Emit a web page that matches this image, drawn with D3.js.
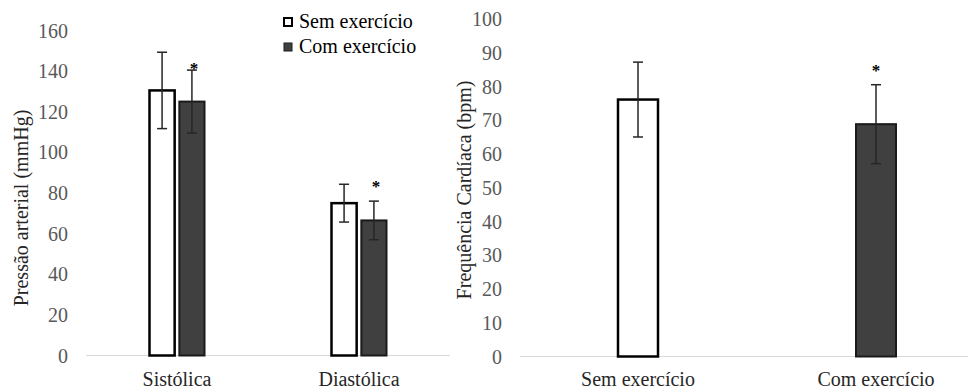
<!DOCTYPE html>
<html lang="pt">
<head>
    <meta charset="UTF-8">
    <script src="https://d3js.org/d3.v7.min.js"></script>
    <style>
        body { margin: 0; background: #fff; }
        svg text { font-family: "Liberation Serif", "Times New Roman", serif; }
    </style>
</head>
<body>
    <svg id="chart" width="968" height="392"></svg>

    <script>
        // left panel: blood pressure
        const bpCategories = ["Sistólica", "Diastólica"];
        const seriesNames = ["Sem exercício", "Com exercício"];
        const bpMeans = [[130.5, 125], [75, 66.5]];
        const bpErrors = [[18.8, 15.5], [9.3, 9.5]];
        const bpStarAt = [143, 85];   // value where the * sits
        const bpTicks = [0, 20, 40, 60, 80, 100, 120, 140, 160];

        // right panel: heart rate
        const hrCategories = ["Sem exercício", "Com exercício"];
        const hrMeans = [76.2, 68.9];
        const hrErrors = [11.1, 11.7];
        const hrStar = [false, true];
        const hrStarAt = 86;
        const hrTicks = [0, 10, 20, 30, 40, 50, 60, 70, 80, 90, 100];

        const fills = ["#ffffff", "#404040"];
        const strokes = ["#000000", "#1a1a1a"];

        const svg = d3.select("#chart");

        // draws a vertical error bar with caps
        function errorBar(cx, yTop, yBottom) {
            svg.append("line")
                .attr("x1", cx).attr("x2", cx)
                .attr("y1", yTop).attr("y2", yBottom)
                .attr("stroke", "#262626").attr("stroke-width", 1.5);
            [yTop, yBottom].forEach(y => {
                svg.append("line")
                    .attr("x1", cx - 5).attr("x2", cx + 5)
                    .attr("y1", y).attr("y2", y)
                    .attr("stroke", "#262626").attr("stroke-width", 1.5);
            });
        }

        function star(x, y) {
            svg.append("text")
                .attr("x", x).attr("y", y + 9)
                .attr("text-anchor", "middle")
                .attr("font-size", 17).attr("font-weight", "bold")
                .attr("fill", "#000").text("*");
        }

        // ---------- left ----------
        const yL = d3.scaleLinear().domain([0, 160]).range([355.5, 30.5]);
        const xL = d3.scaleBand().domain(bpCategories).range([86, 450]);
        const xInner = d3.scaleBand().domain(seriesNames).range([0, 57]).paddingInner(0.09);

        svg.append("line")
            .attr("x1", 86).attr("x2", 450)
            .attr("y1", yL(0)).attr("y2", yL(0))
            .attr("stroke", "#d9d9d9").attr("stroke-width", 1);

        svg.selectAll(".tickL")
            .data(bpTicks).enter().append("text")
            .attr("class", "tickL")
            .attr("x", 68).attr("y", d => yL(d) + 7)
            .attr("text-anchor", "end")
            .attr("font-size", 20).attr("fill", "#595959")
            .text(d => d);

        bpCategories.forEach((cat, ci) => {
            const left = xL(cat) + xL.bandwidth() / 2 - 28.5;
            seriesNames.forEach((s, si) => {
                const m = bpMeans[ci][si], e = bpErrors[ci][si];
                const x0 = left + xInner(s), w = xInner.bandwidth();
                svg.append("rect")
                    .attr("x", x0 + 1).attr("width", w - 2)
                    .attr("y", yL(m)).attr("height", yL(0) - yL(m))
                    .attr("fill", fills[si]).attr("stroke", strokes[si])
                    .attr("stroke-width", si === 0 ? 2.5 : 2);
                const cx = x0 + w / 2;
                errorBar(cx, yL(m + e), yL(m - e));
                if (si === 1) star(cx + 2, yL(bpStarAt[ci]));
            });
            svg.append("text")
                .attr("x", xL(cat) + xL.bandwidth() / 2).attr("y", 386)
                .attr("text-anchor", "middle")
                .attr("font-size", 20).attr("fill", "#262626")
                .text(cat);
        });

        svg.append("text")
            .attr("transform", `translate(28,208) rotate(-90)`)
            .attr("text-anchor", "middle")
            .attr("font-size", 20).attr("fill", "#262626")
            .text("Pressão arterial (mmHg)");

        // legend
        seriesNames.forEach((s, i) => {
            svg.append("rect")
                .attr("x", 284).attr("y", 18 + i * 25)
                .attr("width", 8).attr("height", 8)
                .attr("fill", fills[i]).attr("stroke", strokes[i])
                .attr("stroke-width", i === 0 ? 2 : 1);
            svg.append("text")
                .attr("x", 299).attr("y", 28 + i * 25)
                .attr("font-size", 20).attr("fill", "#000")
                .text(s);
        });

        // ---------- right ----------
        const yR = d3.scaleLinear().domain([0, 100]).range([356.5, 19.3]);
        const xR = d3.scaleBand().domain(hrCategories).range([519, 995]);

        svg.append("line")
            .attr("x1", 520).attr("x2", 968)
            .attr("y1", yR(0)).attr("y2", yR(0))
            .attr("stroke", "#d9d9d9").attr("stroke-width", 1);

        svg.selectAll(".tickR")
            .data(hrTicks).enter().append("text")
            .attr("class", "tickR")
            .attr("x", 502).attr("y", d => yR(d) + 7)
            .attr("text-anchor", "end")
            .attr("font-size", 20).attr("fill", "#595959")
            .text(d => d);

        hrCategories.forEach((cat, i) => {
            const cx = xR(cat) + xR.bandwidth() / 2;
            const m = hrMeans[i], e = hrErrors[i];
            svg.append("rect")
                .attr("x", cx - 20).attr("width", 40)
                .attr("y", yR(m)).attr("height", yR(0) - yR(m))
                .attr("fill", fills[i]).attr("stroke", strokes[i])
                .attr("stroke-width", i === 0 ? 2.5 : 2);
            errorBar(cx, yR(m + e), yR(m - e));
            if (hrStar[i]) star(cx, yR(hrStarAt));
            svg.append("text")
                .attr("x", cx).attr("y", 386)
                .attr("text-anchor", "middle")
                .attr("font-size", 20).attr("fill", "#262626")
                .text(cat);
        });

        svg.append("text")
            .attr("transform", `translate(471,190) rotate(-90)`)
            .attr("text-anchor", "middle")
            .attr("font-size", 20).attr("fill", "#262626")
            .text("Frequência Cardíaca (bpm)");
    </script>
</body>
</html>
